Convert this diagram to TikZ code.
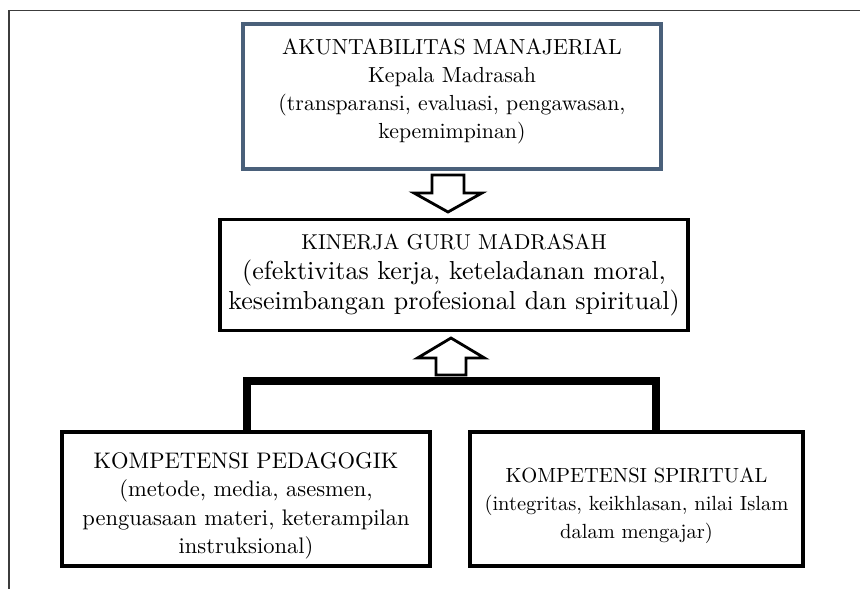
\documentclass[tikz,border=0pt]{standalone}
\usepackage{fontspec}
\setmainfont{lmroman10-regular.otf}
\usepackage{tikz}
\usetikzlibrary{positioning}
\usepackage{xcolor}
\definecolor{slate}{RGB}{74,96,122}
\definecolor{framegray}{RGB}{60,60,60}

\begin{document}
\begin{tikzpicture}[x=1pt,y=1pt,on grid,
    box/.style={draw,line width=3.5pt,align=center,inner sep=0pt,
      font=\fontsize{22}{28}\selectfont},
    blockarrow/.style={draw,fill=white,line width=2.8pt,line join=miter},
    bracket/.style={draw,line width=8pt,line join=miter}]
   \useasboundingbox (0,0) rectangle (860,-589);
   \draw[framegray,line width=1.5pt] (9,-589) |- (860,-10.5);
   \node[box,draw=slate,line width=4pt,minimum width=418pt,minimum height=145pt,font=\fontsize{21.8}{28}\selectfont] (akun) at (452,-96.5)
     {AKUNTABILITAS MANAJERIAL\\ Kepala Madrasah\\ (transparansi, evaluasi, pengawasan,\\ kepemimpinan)\\[-12pt]{}};
   \node[box,minimum width=468pt,minimum height=111pt,font=\fontsize{26}{30}\selectfont] (kinerja) [below=178.5pt of akun,xshift=2pt]
     {{\fontsize{21.5}{30}\selectfont KINERJA GURU MADRASAH}\\ (efektivitas kerja, keteladanan moral,\\ keseimbangan profesional dan spiritual)};
   \node[box,line width=4pt,minimum width=368pt,minimum height=134pt,font=\fontsize{22.5}{28.5}\selectfont] (pedagogik) [below left=224pt and 208pt of kinerja]
     {\rule{0pt}{30pt}KOMPETENSI PEDAGOGIK\\ (metode, media, asesmen,\\ penguasaan materi, keterampilan\\ instruksional)};
   \node[box,line width=4pt,minimum width=333pt,minimum height=134pt,font=\fontsize{20.5}{28}\selectfont] (spiritual) [below right=224pt and 182.5pt of kinerja]
     {\rule{0pt}{28pt}KOMPETENSI SPIRITUAL\\ (integritas, keikhlasan, nilai Islam\\ dalam mengajar)};
   % arrows between the levels
   \draw[blockarrow] (432,-175) -- (464,-175) -- (464,-193) -- (482,-193) -- (448,-212)
     -- (414,-193) -- (432,-193) -- cycle;
   \draw[blockarrow] (436,-375) -- (466,-375) -- (466,-358) -- (484.5,-358) -- (451,-338)
     -- (417.5,-358) -- (436,-358) -- cycle;
   \draw[bracket] ([xshift=1pt]pedagogik.north) |- (451,-381) -| ([xshift=19.5pt]spiritual.north);
\end{tikzpicture}
\end{document}
